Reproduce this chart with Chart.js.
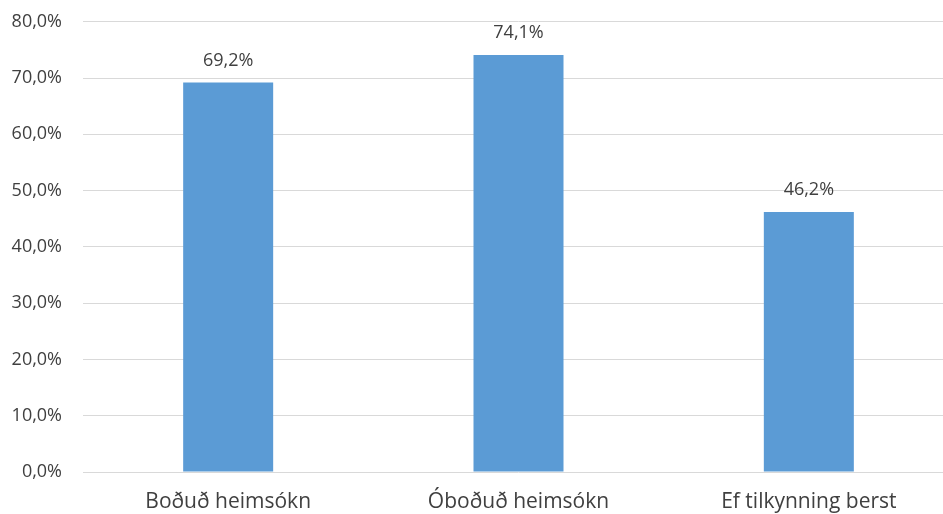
<!DOCTYPE html>
<html>
<head>
<meta charset="utf-8">
<script src="https://cdn.jsdelivr.net/npm/chart.js@4"></script>
<style>
html,body{margin:0;padding:0;background:#fff;overflow:hidden;}
#wrap{position:relative;width:954px;height:524px;margin-top:-10px;}
</style>
</head>
<body>
<div id="wrap"><canvas id="c"></canvas></div>
<script>
const categories = ["Boðuð heimsókn", "Óboðuð heimsókn", "Ef tilkynning berst"];
const values = [69.2, 74.1, 46.2];
const yTicks = [0, 10, 20, 30, 40, 50, 60, 70, 80];

const fmt = v => v.toFixed(1).replace('.', ',') + '%';

const dataLabels = {
  id: 'dataLabels',
  afterDatasetsDraw(chart) {
    const ctx = chart.ctx;
    const meta = chart.getDatasetMeta(0);
    ctx.save();
    ctx.font = '18px "Open Sans"';
    ctx.fillStyle = '#404040';
    ctx.textAlign = 'center';
    ctx.textBaseline = 'middle';
    meta.data.forEach((bar, i) => {
      ctx.fillText(fmt(values[i]), bar.x, bar.y - 22);
    });
    ctx.restore();
  }
};

new Chart(document.getElementById('c'), {
  type: 'bar',
  data: {
    labels: categories,
    datasets: [{
      data: values,
      backgroundColor: '#5B9BD5',
      categoryPercentage: 1,
      barPercentage: 0.31
    }]
  },
  options: {
    responsive: true,
    maintainAspectRatio: false,
    animation: false,
    layout: { padding: { top: 0, right: 0, bottom: 0, left: 0 } },
    plugins: { legend: { display: false }, tooltip: { enabled: false } },
    scales: {
      x: {
        grid: { display: false, drawTicks: false },
        border: { display: false },
        ticks: { color: '#404040', font: { family: 'Open Sans', size: 21 }, padding: 17 },
        afterFit(s) { s.height = 42; }
      },
      y: {
        min: 0, max: 80,
        afterBuildTicks(s) { s.ticks = yTicks.map(v => ({ value: v })); },
        grid: { color: '#d9d9d9', lineWidth: 1, drawTicks: false },
        border: { display: false },
        ticks: { color: '#404040', font: { family: 'Open Sans', size: 18 }, padding: 21, callback: v => fmt(v) },
        afterFit(s) { s.width = 83; }
      }
    }
  },
  plugins: [dataLabels]
});
</script>
</body>
</html>
